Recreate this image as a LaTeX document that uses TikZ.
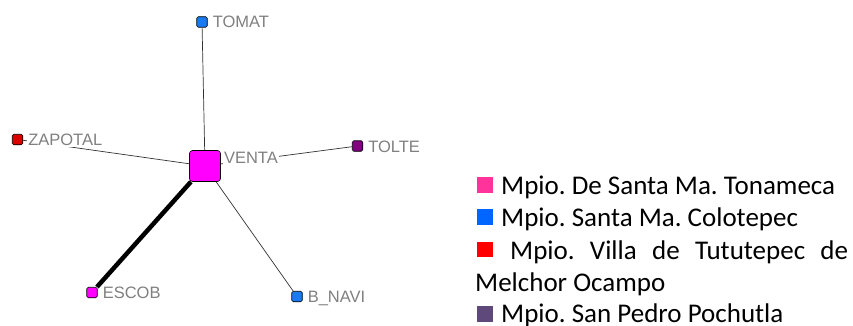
\documentclass[tikz,border=0pt]{standalone}
\usepackage{fontspec}
\setmainfont{Carlito}
\newfontfamily\netfont{Liberation Sans}
\usepackage{tikz}
\usetikzlibrary{positioning}
\frenchspacing

\definecolor{tonameca}{HTML}{FF3399}
\definecolor{colotepec}{HTML}{0066FF}
\definecolor{tututepec}{HTML}{FF0000}
\definecolor{pochutla}{HTML}{5F497A}
\definecolor{netmagenta}{HTML}{FF00FF}
\definecolor{netblue}{HTML}{1A7AF0}
\definecolor{netred}{HTML}{DD0000}
\definecolor{netpurple}{HTML}{800080}

\begin{document}
\begin{tikzpicture}[x=1pt,y=-1pt,
  actor/.style={draw=black,line width=0.6pt,rounded corners=1.5pt,minimum size=10.5pt,inner sep=0pt},
  tie/.style={draw=black!80,line width=0.7pt},
  strongtie/.style={draw=black,line width=4.5pt},
  actorlabel/.style={fill=white,inner sep=1pt,text=black!50,font=\netfont\fontsize{16.5}{16.5}\selectfont,text height=12pt,text depth=0pt},
  keybox/.style={minimum size=15.5pt,inner sep=0pt},
  keytext/.style={inner sep=0pt,anchor=base west,font=\fontsize{27}{32}\selectfont}]
  \path[use as bounding box,fill=white] (0,0) rectangle (853,326);

  %actors
  \node[actor,fill=netmagenta,minimum size=31pt,rounded corners=3pt] (venta) at (205,166) {};
  \node[actor,fill=netblue] (tomat) at (202,22) {};
  \node[actor,fill=netred] (zapotal) at (17.5,139.5) {};
  \node[actor,fill=netpurple] (tolte) at (357.5,146) {};
  \node[actor,fill=netmagenta] (escob) at (92,292.5) {};
  \node[actor,fill=netblue] (bnavi) at (297,296.5) {};

  %ties
  \draw[tie] (venta) -- (tomat);
  \draw[tie] (venta) -- (zapotal);
  \draw[tie] (venta) -- (tolte);
  \draw[tie] (venta) -- (bnavi);
  \draw[strongtie] (venta) -- (escob);

  %actor labels
  \node[actorlabel,anchor=north west] (ventalbl) at ([xshift=2pt]venta.north east) {VENTA};
  \node[actorlabel,right=4pt of tomat] (tomatlbl) {TOMAT};
  \node[actorlabel,right=4pt of zapotal] (zapotallbl) {ZAPOTAL};
  \node[actorlabel,right=4pt of tolte] (toltelbl) {TOLTE};
  \node[actorlabel,right=4pt of escob] (escoblbl) {ESCOB};
  \node[actorlabel,right=4pt of bnavi] (bnavilbl) {B\_NAVI};

  %legend
  \node[keybox,fill=tonameca] (key1) at (485,185) {};
  \node[keytext] (text1) at (501,194) {Mpio. De Santa Ma. Tonameca};
  \node[keybox,fill=colotepec] (key2) at (485,217) {};
  \node[keytext] (text2) at (501,226.5) {Mpio. Santa Ma. Colotepec};
  \node[keybox,fill=tututepec] (key3) at (485,249.5) {};
  \node[keytext] (text3) at (510,259) {\makebox[338pt][s]{Mpio. Villa de Tututepec de}};
  \node[keytext] (text4) at (475,291.5) {Melchor Ocampo};
  \node[keybox,fill=pochutla] (key5) at (485,314) {};
  \node[keytext] (text5) at (501,322.5) {Mpio. San Pedro Pochutla};
\end{tikzpicture}
\end{document}
